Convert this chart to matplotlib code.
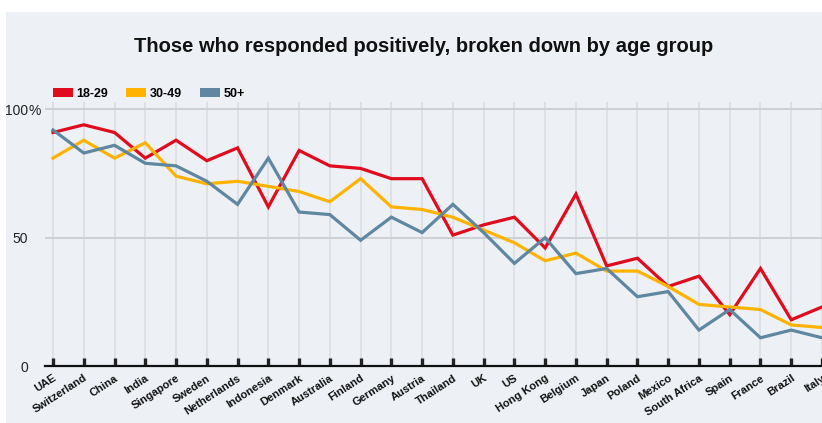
import matplotlib
matplotlib.use("Agg")
import matplotlib.pyplot as plt
from matplotlib.patches import Patch, Rectangle
import matplotlib.transforms as mtransforms

countries = ["UAE", "Switzerland", "China", "India", "Singapore", "Sweden",
             "Netherlands", "Indonesia", "Denmark", "Australia", "Finland",
             "Germany", "Austria", "Thailand", "UK", "US", "Hong Kong",
             "Belgium", "Japan", "Poland", "Mexico", "South Africa", "Spain",
             "France", "Brazil", "Italy"]

age_18_29 = [91, 94, 91, 81, 88, 80, 85, 62, 84, 78, 77, 73, 73,
             51, 55, 58, 46, 67, 39, 42, 31, 35, 20, 38, 18, 23]
age_30_49 = [81, 88, 81, 87, 74, 71, 72, 70, 68, 64, 73, 62, 61,
             58, 53, 48, 41, 44, 37, 37, 31, 24, 23, 22, 16, 15]
age_50_plus = [92, 83, 86, 79, 78, 72, 63, 81, 60, 59, 49, 58, 52,
               63, 52, 40, 50, 36, 38, 27, 29, 14, 22, 11, 14, 11]

groups = ["18-29", "30-49", "50+"]
series = [age_18_29, age_30_49, age_50_plus]
colors = ["#e00b1c", "#ffb300", "#5f879f"]

y_ticks = [0, 50, 100]
y_labels = ["0", "50", "100"]

bg = "#edf0f5"
W, H = 822, 423

fig = plt.figure(figsize=(W / 100, H / 100), dpi=100)
fig.patch.set_facecolor("white")
# light panel behind everything, leaving a thin white margin top/left
fig.patches.append(Rectangle((6 / W, 0), 1, 1 - 12 / H, transform=fig.transFigure,
                             facecolor=bg, edgecolor="none", zorder=-5))

ax = fig.add_axes([45 / W, 57 / H, 1 - 45 / W, (366 - 101.7) / H])
ax.set_facecolor(bg)

x = list(range(len(countries)))
for vals, c in zip(series, colors):
    ax.plot(x, vals, color=c, lw=2.3, solid_joinstyle="miter", zorder=3)

ax.set_xlim(-0.26, len(countries) - 1)
ax.set_ylim(0, 103)

for s in ["top", "right", "left"]:
    ax.spines[s].set_visible(False)
ax.spines["bottom"].set_color("#111111")
ax.spines["bottom"].set_linewidth(1.6)
ax.spines["bottom"].set_zorder(4)

ax.set_xticks(x)
ax.set_xticklabels(countries, rotation=33, ha="right", va="top",
                   rotation_mode="anchor", fontsize=8, fontweight="bold",
                   family=["Liberation Sans", "DejaVu Sans"], color="#111111")
offset = mtransforms.ScaledTranslation(4 / 100, -1 / 100, fig.dpi_scale_trans)
for lab in ax.get_xticklabels():
    lab.set_transform(lab.get_transform() + offset)
ax.tick_params(axis="x", direction="in", length=6, width=2.4, color="#222222",
               pad=5)

ax.set_yticks(y_ticks)
ax.set_yticklabels(y_labels, fontsize=10, family=["Liberation Sans", "DejaVu Sans"],
                   color="#222222")
ax.tick_params(axis="y", length=0, pad=12)

ax.xaxis.grid(True, color="#dcdfe3", lw=1.3, zorder=1)
ax.yaxis.grid(True, color="#cdd0d4", lw=1.4, zorder=1)
ax.set_axisbelow(True)

# percent sign hangs off the right of the top label, on its baseline
fig.canvas.draw()
top_lab = ax.get_yticklabels()[-1]
bb = top_lab.get_window_extent()
fig.text(bb.x1 / W, top_lab.get_transform().transform(top_lab.get_position())[1] / H,
         "%", ha="left", va="center_baseline", fontsize=10,
         family=["Liberation Sans", "DejaVu Sans"], color="#222222")

fig.text(423.5 / W, 1 - 46 / H, "Those who responded positively, broken down by age group",
         ha="center", va="center", fontsize=14.5, fontweight="bold",
         family=["Liberation Sans Narrow", "Liberation Sans", "DejaVu Sans"],
         color="#111111")

handles = [Patch(facecolor=c, edgecolor="none", label=g) for g, c in zip(groups, colors)]
fig.legend(handles=handles, loc="center left", bbox_to_anchor=(53 / W, 1 - 93.5 / H),
           bbox_transform=fig.transFigure, ncol=3, frameon=False, borderpad=0,
           borderaxespad=0, handlelength=1.6, handleheight=0.72, handletextpad=0.28,
           columnspacing=1.45,
           prop={"family": ["Liberation Sans", "DejaVu Sans"], "weight": "bold", "size": 9})

fig.savefig("out.png", dpi=100, facecolor=fig.get_facecolor())
